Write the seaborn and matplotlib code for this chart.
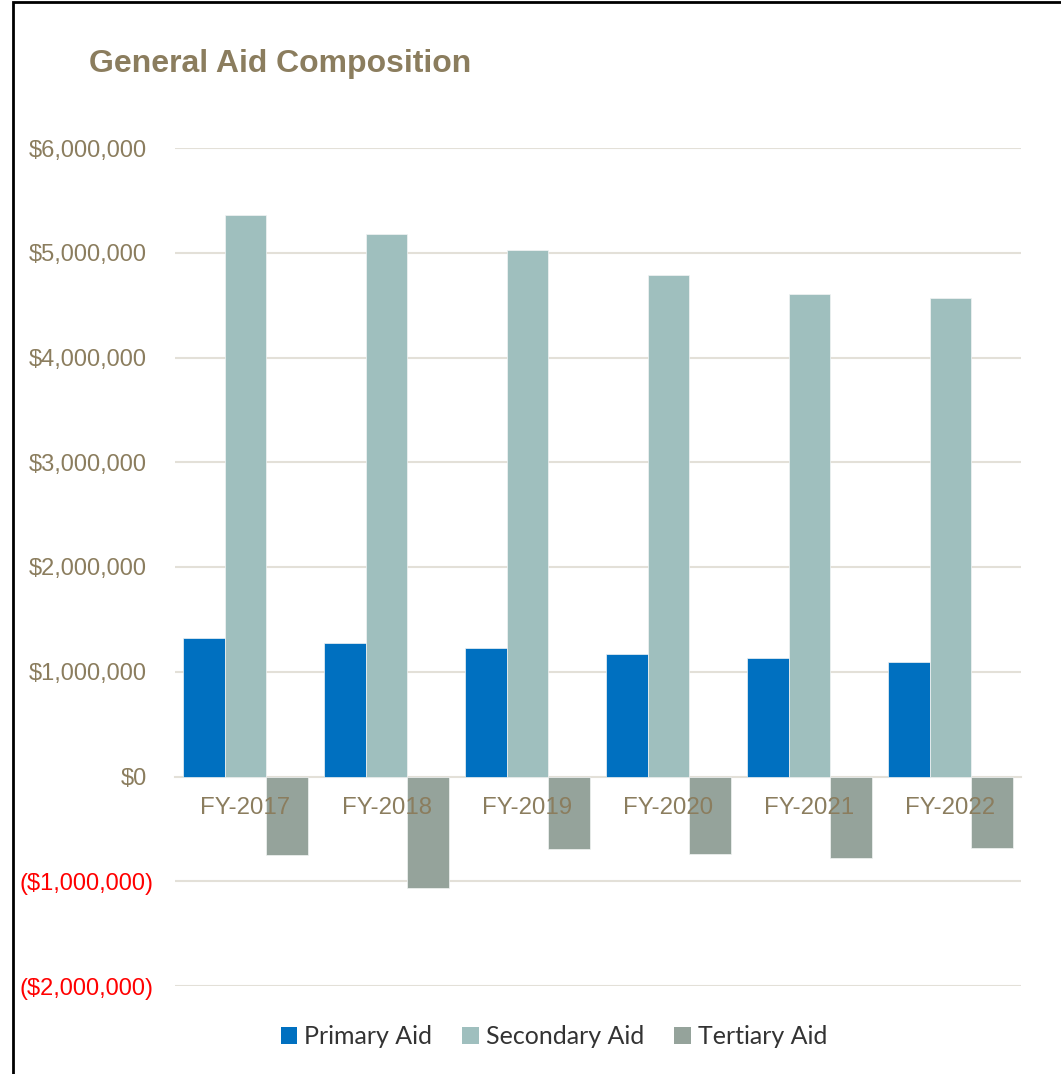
import matplotlib
matplotlib.use("Agg")
import matplotlib.pyplot as plt
import matplotlib.transforms as mtransforms
import seaborn as sns
import pandas as pd
from matplotlib.ticker import FuncFormatter
from matplotlib.patches import Rectangle, Patch

years = ["FY-2017", "FY-2018", "FY-2019", "FY-2020", "FY-2021", "FY-2022"]
primary = [1318000, 1270000, 1222000, 1165000, 1127000, 1090000]
secondary = [5360000, 5180000, 5025000, 4787000, 4605000, 4567000]
tertiary = [-745000, -1060000, -688000, -736000, -774000, -678000]
series = ["Primary Aid", "Secondary Aid", "Tertiary Aid"]
colors = ["#0070C0", "#9FBFBE", "#95A39B"]
yticks = [-2000000, -1000000, 0, 1000000, 2000000, 3000000, 4000000, 5000000, 6000000]

rows = []
for name, vals in zip(series, [primary, secondary, tertiary]):
    for y, v in zip(years, vals):
        rows.append({"Year": y, "Series": name, "Value": v})
df = pd.DataFrame(rows)

sns.set_theme(style="white")
plt.rcParams["font.family"] = ["Liberation Sans", "DejaVu Sans"]

fig = plt.figure(figsize=(10.61, 10.74), dpi=100)
ax = fig.add_axes([175/1061, 1-986/1074, 846/1061, 838/1074])

tick_color = "#8B7D5E"
grid_color = "#E3E0D8"

for t in yticks:
    if t != 0:
        ax.axhline(t, color=grid_color, linewidth=1.5, zorder=0)

sns.barplot(data=df, x="Year", y="Value", hue="Series", palette=colors,
            hue_order=series, order=years, width=0.88, ax=ax, saturation=1,
            edgecolor="#F2F4F4", linewidth=0.5, legend=False, errorbar=None,
            zorder=1)

ax.set_ylim(-2000000, 6000000)
ax.set_xlim(-0.5, 5.5)
ax.set_yticks(yticks)
ax.set_axisbelow(False)
ax.grid(False)
for s in ["top", "right", "left"]:
    ax.spines[s].set_visible(False)
ax.spines["bottom"].set_position(("data", 0))
ax.spines["bottom"].set_color(grid_color)
ax.spines["bottom"].set_linewidth(1.5)
ax.spines["bottom"].set_zorder(0.5)
ax.xaxis.set_zorder(3)

def fmt(v, pos):
    if v < 0:
        return "(${:,.0f})".format(-v)
    return "${:,.0f}".format(v)
ax.yaxis.set_major_formatter(FuncFormatter(fmt))
ax.tick_params(axis="y", length=0, pad=20, labelsize=17, labelcolor=tick_color)
ax.tick_params(axis="x", length=0, pad=15, labelsize=17.3, labelcolor=tick_color)
fig.canvas.draw()
shift = mtransforms.ScaledTranslation(6/100, 0, fig.dpi_scale_trans)
for lab, t in zip(ax.get_yticklabels(), ax.get_yticks()):
    if t < 0:
        lab.set_color("red")
        lab.set_transform(lab.get_transform() + shift)
ax.set_xlabel("")
ax.set_ylabel("")

fig.text(89/1061, 1-64/1074, "General Aid Composition", fontsize=23,
         fontweight="bold", color=tick_color, va="center", ha="left")

handles = [Patch(facecolor=c, edgecolor="none") for c in colors]
fig.legend(handles, series, loc="center", bbox_to_anchor=(554/1061, 1-1037/1074),
           ncol=3, frameon=False, prop={"family": "Lato", "size": 18},
           labelcolor="#333333", handlelength=0.65, handleheight=0.65,
           handletextpad=0.3, columnspacing=1.2)

fig.patches.append(Rectangle((13/1061, -0.05), 1.2, 1-2/1074+0.05,
                             transform=fig.transFigure, fill=False,
                             edgecolor="black", linewidth=2))

fig.savefig("out.png", dpi=100)
